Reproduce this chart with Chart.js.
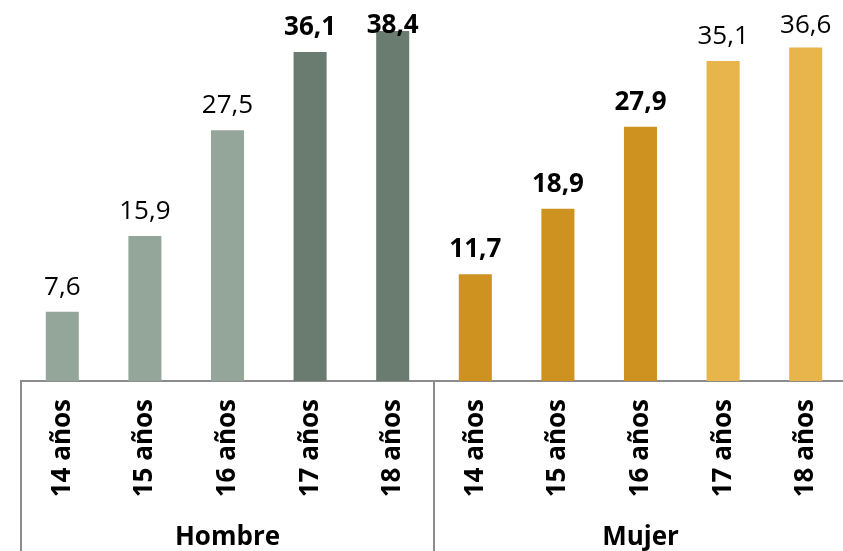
<!DOCTYPE html>
<html>
<head>
<meta charset="utf-8">
<script src="https://cdn.jsdelivr.net/npm/chart.js@4"></script>
<style>
  html, body { margin: 0; padding: 0; background: #fff; overflow: hidden; }
  #wrap { width: 847px; height: 551px; position: relative; }
</style>
</head>
<body>
<div id="wrap"><canvas id="chart"></canvas></div>
<script>
// Datos
const EDADES = ['14 años', '15 años', '16 años', '17 años', '18 años',
                '14 años', '15 años', '16 años', '17 años', '18 años'];
const SEXO = ['Hombre', 'Hombre', 'Hombre', 'Hombre', 'Hombre',
              'Mujer', 'Mujer', 'Mujer', 'Mujer', 'Mujer'];
const GRUPOS = ['Hombre', 'Mujer'];
const VALORES = [7.6, 15.9, 27.5, 36.1, 38.4, 11.7, 18.9, 27.9, 35.1, 36.6];
const DESTACADO = [false, false, false, true, true, true, true, true, false, false]; // etiqueta en negrita

const COLORES = {
  Hombre: { normal: '#94a59a', fuerte: '#6a7c70' },
  Mujer:  { normal: '#e8b44c', fuerte: '#cd921f' }
};
const FUENTE = '"Open Sans", "DejaVu Sans", sans-serif';

const fmt = v => v.toFixed(1).replace('.', ',');

// tono fuerte para las barras destacadas
const colorBarra = VALORES.map((v, i) => {
  const c = COLORES[SEXO[i]];
  return DESTACADO[i] ? c.fuerte : c.normal;
});

// ─── Etiquetas de valor sobre las barras ─────────────────────────────────────
const etiquetasValor = {
  id: 'etiquetasValor',
  afterDatasetsDraw(chart) {
    const ctx = chart.ctx;
    const meta = chart.getDatasetMeta(0);
    ctx.save();
    ctx.fillStyle = '#000';
    ctx.textAlign = 'center';
    ctx.textBaseline = 'alphabetic';
    meta.data.forEach((bar, i) => {
      ctx.font = (DESTACADO[i] ? 'bold ' : '') + '26px ' + FUENTE;
      const y = Math.max(bar.y - 17, 33);
      ctx.fillText(fmt(VALORES[i]), bar.x, y);
    });
    ctx.restore();
  }
};

// ─── Eje de grupos (Hombre / Mujer) con separadores ──────────────────────────
const ejeGrupos = {
  id: 'ejeGrupos',
  afterDraw(chart) {
    const ctx = chart.ctx;
    const x = chart.scales.x;
    const area = chart.chartArea;
    const alto = chart.height;
    const paso = x.getPixelForValue(1) - x.getPixelForValue(0);

    ctx.save();
    ctx.strokeStyle = '#8c8c8c';
    ctx.lineWidth = 2;
    ctx.font = 'bold 26px ' + FUENTE;
    ctx.fillStyle = '#000';
    ctx.textAlign = 'center';
    ctx.textBaseline = 'alphabetic';

    GRUPOS.forEach(g => {
      const idx = SEXO.map((s, i) => s === g ? i : -1).filter(i => i >= 0);
      const ini = x.getPixelForValue(idx[0]) - paso / 2;
      const fin = x.getPixelForValue(idx[idx.length - 1]) + paso / 2;
      ctx.beginPath();
      ctx.moveTo(ini, area.bottom);
      ctx.lineTo(ini, alto);
      ctx.stroke();
      ctx.fillText(g, (ini + fin) / 2, 545);
    });
    ctx.restore();
  }
};

new Chart(document.getElementById('chart').getContext('2d'), {
  type: 'bar',
  data: {
    labels: EDADES,
    datasets: [{
      data: VALORES,
      backgroundColor: colorBarra,
      borderWidth: 0,
      barPercentage: 0.4,
      categoryPercentage: 1.0
    }]
  },
  options: {
    responsive: true,
    maintainAspectRatio: false,
    devicePixelRatio: 1,
    animation: false,
    layout: { padding: { left: 21, right: 0, top: 0, bottom: 0 } },
    plugins: {
      legend: { display: false },
      tooltip: { enabled: false }
    },
    scales: {
      y: {
        display: false,
        min: 0,
        max: 41.8
      },
      x: {
        grid: { display: false },
        border: { display: true, color: '#8c8c8c', width: 2 },
        ticks: {
          color: '#000',
          font: { family: FUENTE, size: 26, weight: 'bold' },
          minRotation: 90,
          maxRotation: 90,
          autoSkip: false,
          padding: 10
        },
        afterFit(scale) {
          scale.height = 170;
          scale.paddingLeft = 0;
          scale.paddingRight = 0;
        }
      }
    }
  },
  plugins: [etiquetasValor, ejeGrupos]
});
</script>
</body>
</html>
